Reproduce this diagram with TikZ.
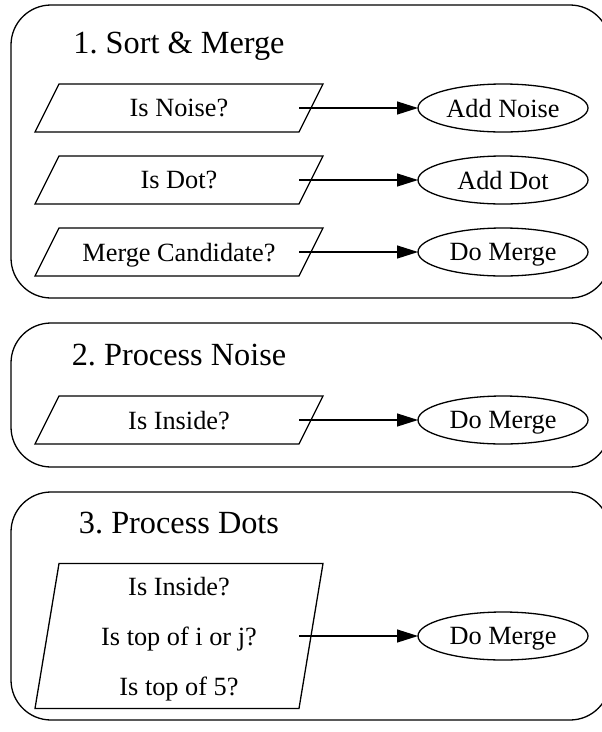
\documentclass[tikz,border=0pt]{standalone}
\usepackage{fontspec}
\setmainfont{Liberation Serif}
\usetikzlibrary{shapes.geometric,arrows.meta}
\frenchspacing

\tikzset{
  stage/.style={draw, line width=1.3pt, rounded corners=40pt},
  stagetitle/.style={anchor=base, inner sep=0pt, font=\fontsize{32.3}{38}\selectfont},
  testbox/.style={minimum width=288pt, minimum height=48pt, inner sep=0pt, outer sep=0pt,
                  text depth=0pt, align=center, font=\fontsize{26.3}{50}\selectfont},
  slant/.style={draw, line width=1.3pt, line join=miter},
  action/.style={draw, ellipse, line width=1.3pt, minimum width=170pt, minimum height=48pt,
                 inner sep=0pt, outer sep=0pt, text depth=0pt, font=\fontsize{26.3}{31}\selectfont},
  flow/.style={line width=1.3pt, -{Triangle[length=21pt,width=13pt]}}
}

% parallelogram drawn over the rectangle of a test node
\newcommand{\slantbox}[1]{%
  \draw[slant] ([xshift=24pt]#1.north west) -- (#1.north east)
    -- ([xshift=-24pt]#1.south east) -- (#1.south west) -- cycle;}

\begin{document}
\begin{tikzpicture}[x=1pt, y=-1pt]
  \path[use as bounding box, clip] (0,0) rectangle (602,732);

  % stage frames
  \draw[stage] (11,5)   rectangle (610,298);
  \draw[stage] (11,323) rectangle (610,467);
  \draw[stage] (11,492) rectangle (610,720);

  % stage 1
  \node[stagetitle] (t1) at (179,53) {1. Sort \& Merge};
  \node[testbox] (q1) at (179,108) {Is Noise?};
  \node[testbox] (q2) at (179,180) {Is Dot?};
  \node[testbox] (q3) at (179,252) {Merge Candidate?};
  \node[action] (a1) at (503,108) {Add Noise};
  \node[action] (a2) at (503,180) {Add Dot};
  \node[action] (a3) at (503,252) {Do Merge};

  % stage 2
  \node[stagetitle] (t2) at (179,365) {2. Process Noise};
  \node[testbox] (q4) at (179,420) {Is Inside?};
  \node[action] (a4) at (503,420) {Do Merge};

  % stage 3
  \node[stagetitle] (t3) at (179,533) {3. Process Dots};
  \node[testbox, minimum height=145pt] (q5) at (179,636)
    {Is Inside?\\Is top of i or j?\\Is top of 5?};
  \node[action] (a5) at (503,636) {Do Merge};

  \foreach \q in {q1,q2,q3,q4,q5} {\slantbox{\q}}

  % connectors
  \foreach \q/\a in {q1/a1,q2/a2,q3/a3,q4/a4,q5/a5}
    \draw[flow] ([xshift=-24pt]\q.east) -- (\a);
\end{tikzpicture}
\end{document}
